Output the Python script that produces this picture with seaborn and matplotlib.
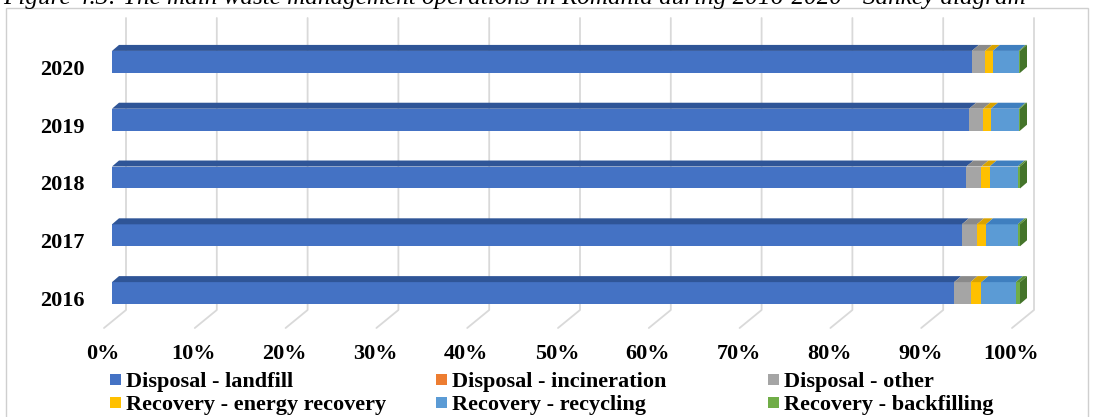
import numpy as np
import pandas as pd
import matplotlib
matplotlib.use('Agg')
import matplotlib.pyplot as plt
import seaborn as sns
from matplotlib.patches import Polygon, Rectangle
from matplotlib.lines import Line2D
from matplotlib.transforms import IdentityTransform, ScaledTranslation

# ---------------- data ----------------
years = ['2020', '2019', '2018', '2017', '2016']
categories = ['Disposal - landfill', 'Disposal - incineration', 'Disposal - other',
              'Recovery - energy recovery', 'Recovery - recycling', 'Recovery - backfilling']
landfill = [94.7, 94.4, 94.1, 93.6, 92.75]
incineration = [0.0, 0.0, 0.0, 0.0, 0.0]
other = [1.45, 1.55, 1.65, 1.65, 1.8]
energy_recovery = [0.85, 0.85, 0.9, 1.0, 1.2]
recycling = [2.85, 3.05, 3.1, 3.5, 3.8]
backfilling = [0.15, 0.15, 0.25, 0.25, 0.45]
x_ticks = list(range(0, 101, 10))
x_tick_labels = [f'{t}%' for t in x_ticks]
caption = 'Figure 4.3: The main waste management operations in Romania during 2016-2020 - Sankey diagram'

colors = ['#4472C4', '#ED7D31', '#A5A5A5', '#FFC000', '#5B9BD5', '#70AD47']
top_colors = ['#2F5597', '#C55A11', '#8A8A8A', '#D9A300', '#3F7FBF', '#5A9138']
side_color = '#44742A'

series = [landfill, incineration, other, energy_recovery, recycling, backfilling]
rows = []
for cat, vals in zip(categories, series):
    for y, v in zip(years, vals):
        rows.append({'year': y, 'category': cat, 'value': v})
df = pd.DataFrame(rows)
df['category'] = pd.Categorical(df['category'], categories, ordered=True)
df = df.sort_values(['year', 'category'])
df['cum'] = df.groupby('year')['value'].cumsum()
df['start'] = df['cum'] - df['value']

# ---------------- figure ----------------
sns.set_style('white')
plt.rcParams['font.family'] = ['Liberation Serif', 'DejaVu Serif']

W, H = 1093, 417
fig = plt.figure(figsize=(W / 100, H / 100), dpi=100)
fig.patch.set_facecolor('white')
ax = fig.add_axes([112 / W, 1 - 322 / H, 908 / W, 289 / H])
ax.set_facecolor('none')

first_patches = None
for cat, col in reversed(list(zip(categories, colors))):
    sub = df[df['category'] == cat]
    n0 = len(ax.patches)
    sns.barplot(data=sub, x='cum', y='year', order=years, orient='h', color=col,
                saturation=1, width=0.38, edgecolor='none', linewidth=0,
                errorbar=None, ax=ax, zorder=2)
    first_patches = ax.patches[n0:n0 + len(years)]

# hide bars of zero-width segments (e.g. incineration) so no sliver shows
for cat in categories:
    pass

ax.set_xlim(0, 100)
ax.set_ylim(len(years) - 0.5, -0.5)
for s in ax.spines.values():
    s.set_visible(False)
ax.set_xlabel('')
ax.set_ylabel('')

# --------- 3D faces derived from the drawn bars ---------
DX, DY = 7, 6
T = ax.transData
for j, yr in enumerate(years):
    p = first_patches[j]
    y_top = p.get_y()
    y_bot = p.get_y() + p.get_height()
    segs = df[df['year'] == yr].sort_values('category')
    last_vis = None
    for i, (_, r) in enumerate(segs.iterrows()):
        if r['value'] <= 0:
            continue
        x0d, ytd = T.transform((r['start'], y_top))
        x1d, ybd = T.transform((r['cum'], y_bot))
        poly = Polygon([(x0d, ytd), (x1d, ytd), (x1d + DX, ytd + DY), (x0d + DX, ytd + DY)],
                       closed=True, transform=IdentityTransform(), facecolor=top_colors[i],
                       edgecolor='none', clip_on=False, zorder=3)
        ax.add_artist(poly)
        last_vis = (x1d, ytd, ybd)
    x1d, ytd, ybd = last_vis
    side = Polygon([(x1d, ybd), (x1d, ytd), (x1d + DX, ytd + DY), (x1d + DX, ybd + DY)],
                   closed=True, transform=IdentityTransform(), facecolor=side_color,
                   edgecolor='none', clip_on=False, zorder=3)
    ax.add_artist(side)

# --------- back wall grid + floor diagonals ---------
for t in x_ticks:
    xb = T.transform((t, 0))[0]
    ln = Line2D([xb + 14, xb + 14, xb - 8], [H - 18, H - 310, H - 328],
                transform=IdentityTransform(), color='#D9D9D9', lw=1.3,
                clip_on=False, zorder=0.5)
    ax.add_artist(ln)

# --------- ticks ---------
ax.set_xticks(x_ticks)
ax.set_xticklabels(x_tick_labels, fontsize=16, fontweight='bold', color='black')
ax.tick_params(axis='x', length=0, pad=16)
ax.tick_params(axis='y', length=0, pad=19.5)
for lab in ax.get_yticklabels():
    lab.set_fontsize(16)
    lab.set_fontweight('bold')
    lab.set_color('black')
    lab.set_transform(lab.get_transform() + ScaledTranslation(0, -0.055, fig.dpi_scale_trans))
for lab in ax.get_xticklabels():
    lab.set_transform(lab.get_transform() + ScaledTranslation(-0.09, 0, fig.dpi_scale_trans))

# --------- chart border ---------
fig.add_artist(Rectangle((6, -5), 1082, H - 8 + 5, transform=IdentityTransform(),
                         fill=False, edgecolor='#CFCFCF', lw=1, zorder=-5))

# --------- legend (row-major, 3 columns) ---------
col_x = [109.5, 436, 768]
row_base = [387, 410]
for k, (cat, col) in enumerate(zip(categories, colors)):
    r, c = divmod(k, 3)
    mx = col_x[c]
    my = H - (row_base[r] - 8)
    fig.add_artist(Rectangle((mx, my - 5.5), 11, 11, transform=IdentityTransform(),
                             facecolor=col, edgecolor='none'))
    fig.text((mx + 16) / W, 1 - row_base[r] / H, cat, fontsize=16, fontweight='bold',
             va='baseline', ha='left', color='black')

# --------- caption (clipped by the top edge, as in the source) ---------
cap = fig.text(3 / W, 1 - 4 / H, caption, fontsize=15, fontstyle='italic',
               va='baseline', ha='left', color='black')
fig.canvas.draw()
w = cap.get_window_extent().width
cap.set_fontsize(15 * 1029 / w)

fig.savefig('out.png', dpi=100)
